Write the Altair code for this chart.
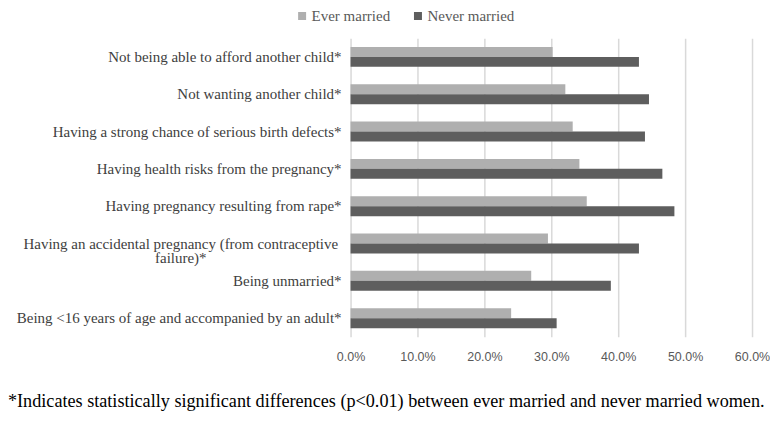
import altair as alt
import pandas as pd

categories = [
    "Not being able to afford another child*",
    "Not wanting another child*",
    "Having a strong chance of serious birth defects*",
    "Having health risks from the pregnancy*",
    "Having pregnancy resulting from rape*",
    "Having an accidental pregnancy (from contraceptive failure)*",
    "Being unmarried*",
    "Being <16 years of age and accompanied by an adult*",
]
display_labels = [
    "Not being able to afford another child*",
    "Not wanting another child*",
    "Having a strong chance of serious birth defects*",
    "Having health risks from the pregnancy*",
    "Having pregnancy resulting from rape*",
    "Having an accidental pregnancy (from contraceptive\nfailure)*",
    "Being unmarried*",
    "Being <16 years of age and accompanied by an adult*",
]
wrapped = [0, 0, 0, 0, 0, 1, 0, 0]
series = ["Ever married", "Never married"]
ever_married = [0.302, 0.321, 0.332, 0.342, 0.353, 0.295, 0.270, 0.240]
never_married = [0.431, 0.446, 0.440, 0.466, 0.484, 0.431, 0.389, 0.308]
x_ticks = [0.0, 0.1, 0.2, 0.3, 0.4, 0.5, 0.6]
footnote = "*Indicates statistically significant differences (p<0.01) between ever married and never married women."

rows = []
for c, e, n in zip(categories, ever_married, never_married):
    rows.append({"category": c, "series": series[0], "value": e})
    rows.append({"category": c, "series": series[1], "value": n})
df = pd.DataFrame(rows)

labels_df = pd.DataFrame({"category": categories, "display": display_labels, "wrapped": wrapped})

y_enc = alt.Y(
    "category:N",
    sort=categories,
    scale=alt.Scale(paddingInner=0.465, paddingOuter=0.2325),
    axis=None,
)

bars = alt.Chart(df).mark_bar().encode(
    x=alt.X(
        "value:Q",
        scale=alt.Scale(domain=[0, 0.6]),
        axis=alt.Axis(
            format=".1%",
            values=x_ticks,
            grid=True,
            gridColor="#d9d9d9",
            gridWidth=1.5,
            domain=False,
            ticks=False,
            labelFlush=False,
            labelFont="Liberation Sans",
            labelFontSize=12.5,
            labelColor="#595959",
            labelPadding=14,
            title=None,
        ),
    ),
    y=y_enc,
    yOffset=alt.YOffset("series:N", sort=series),
    color=alt.Color(
        "series:N",
        scale=alt.Scale(domain=series, range=["#afafaf", "#5e5e5e"]),
        legend=alt.Legend(
            title=None,
            orient="none",
            direction="horizontal",
            legendX=-56,
            legendY=-30,
            symbolType="square",
            symbolSize=64,
            symbolStrokeWidth=0,
            labelFont="Liberation Serif",
            labelFontSize=15,
            labelColor="#595959",
            labelOffset=2,
            columnPadding=20,
        ),
    ),
)

labels_single = alt.Chart(labels_df).transform_filter(
    alt.datum.wrapped == 0
).mark_text(
    align="right", baseline="middle", font="Liberation Serif", fontSize=15, color="#404040"
).encode(
    y=y_enc,
    x=alt.value(-9),
    text="display:N",
)

labels_wrapped = alt.Chart(labels_df).transform_filter(
    alt.datum.wrapped == 1
).mark_text(
    align="center", baseline="middle", font="Liberation Serif", fontSize=15,
    color="#404040", lineBreak="\n", lineHeight=15,
).encode(
    y=y_enc,
    x=alt.value(-170),
    text="display:N",
)

note = alt.Chart(pd.DataFrame({"note": [footnote]})).mark_text(
    align="left", baseline="middle", font="Liberation Serif", fontSize=18.2, color="#000000"
).encode(
    x=alt.value(-343),
    y=alt.value(364),
    text="note:N",
)

chart = alt.layer(bars, labels_single, labels_wrapped, note).properties(
    width=402,
    height=299,
    autosize=alt.AutoSizeParams(type="none"),
    padding={"left": 343, "top": 30, "right": 18, "bottom": 75},
).configure_view(stroke=None)

chart.save("out.html", embed_options={"renderer": "svg", "actions": False})
